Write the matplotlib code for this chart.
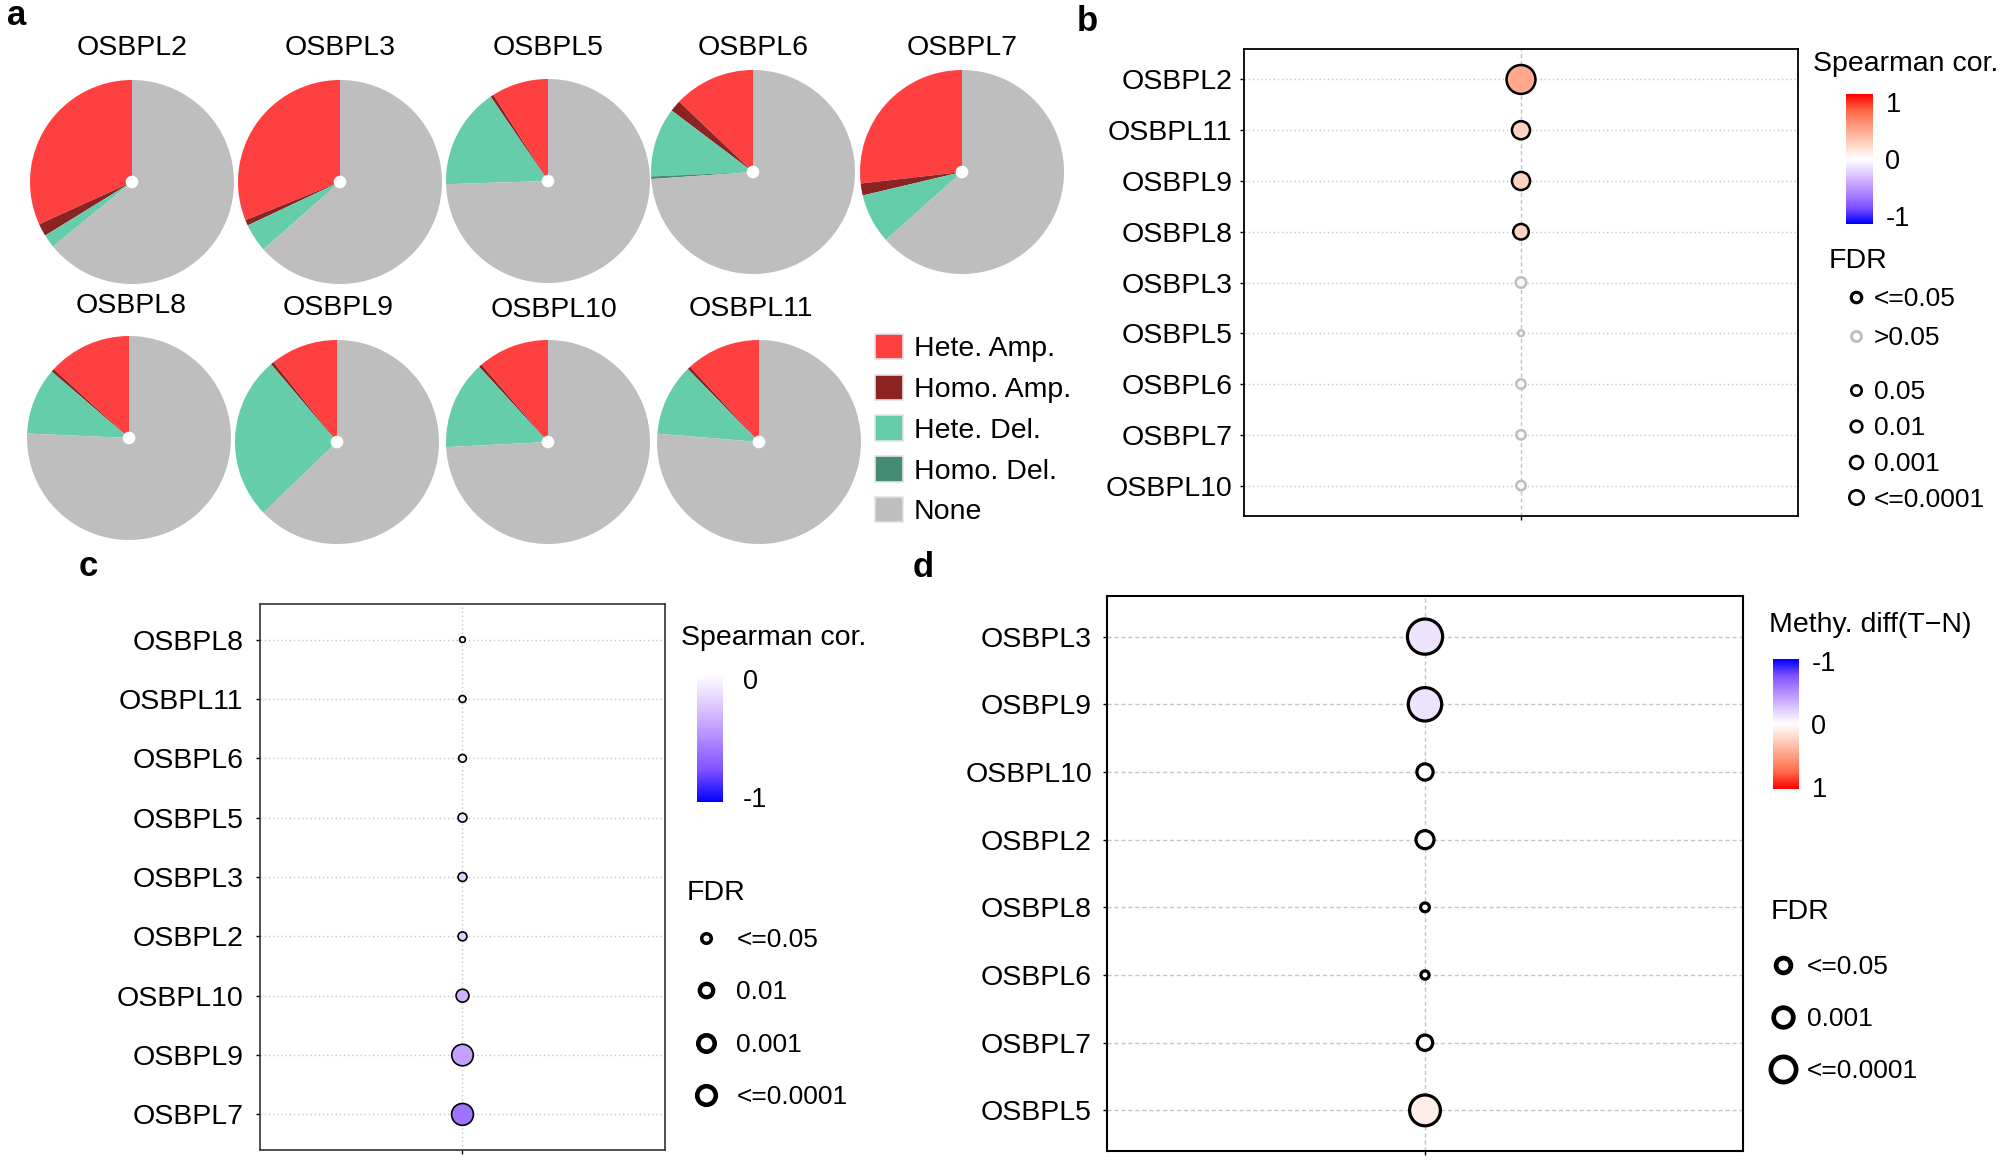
import matplotlib
matplotlib.use("Agg")
import matplotlib.pyplot as plt
import numpy as np
from matplotlib.colors import LinearSegmentedColormap, Normalize
from matplotlib.cm import ScalarMappable
from matplotlib.lines import Line2D
from matplotlib.patches import Patch, Circle

plt.rcParams["font.family"] = ["Liberation Sans", "DejaVu Sans"]
plt.rcParams["axes.unicode_minus"] = False

# ---- panel a: CNV share per gene (percent) ----
pie_genes = ["OSBPL2", "OSBPL3", "OSBPL5", "OSBPL6", "OSBPL7",
             "OSBPL8", "OSBPL9", "OSBPL10", "OSBPL11"]
cnv_types = ["Hete. Amp.", "Homo. Amp.", "Hete. Del.", "Homo. Del.", "None"]
hete_amp = [31.8, 31.1, 9.0, 12.9, 26.8, 13.2, 10.7, 11.3, 11.8]
homo_amp = [2.0, 0.9, 0.5, 1.8, 1.9, 0.5, 0.5, 0.5, 0.5]
hete_del = [2.1, 4.5, 16.0, 11.0, 7.9, 10.6, 26.0, 14.0, 11.4]
homo_del = [0.0, 0.0, 0.0, 0.4, 0.0, 0.0, 0.0, 0.0, 0.0]
no_cnv = [64.1, 63.5, 74.5, 73.9, 63.4, 75.7, 62.8, 74.2, 76.3]
cnv_colors = ["#FF4040", "#8B2323", "#66CDAA", "#458B74", "#BEBEBE"]

# ---- panel b: CNV vs expression ----
genes_b = ["OSBPL2", "OSBPL11", "OSBPL9", "OSBPL8", "OSBPL3",
           "OSBPL5", "OSBPL6", "OSBPL7", "OSBPL10"]
cor_b = [0.45, 0.24, 0.24, 0.22, 0.05, 0.02, 0.04, 0.05, 0.04]
fdr_b = [3.7e-6, 1.05e-3, 1.05e-3, 4e-3, 0.056, 0.63, 0.1, 0.1, 0.1]

# ---- panel c: methylation vs expression ----
genes_c = ["OSBPL8", "OSBPL11", "OSBPL6", "OSBPL5", "OSBPL3",
           "OSBPL2", "OSBPL10", "OSBPL9", "OSBPL7"]
cor_c = [-0.03, -0.06, -0.08, -0.12, -0.20, -0.22, -0.33, -0.40, -0.60]
fdr_c = [0.032, 0.0105, 0.005, 1.66e-3, 1.66e-3, 1.66e-3, 4.2e-5, 1.5e-8, 1.1e-8]

# ---- panel d: methylation difference tumour - normal ----
genes_d = ["OSBPL3", "OSBPL9", "OSBPL10", "OSBPL2",
           "OSBPL8", "OSBPL6", "OSBPL7", "OSBPL5"]
diff_d = [-0.12, -0.12, 0.0, 0.0, 0.0, 0.0, 0.03, 0.09]
fdr_d = [4.5e-9, 1.26e-8, 2.5e-4, 8.9e-5, 0.018, 0.025, 4e-4, 5.6e-8]

W, H = 2008, 1160
fig = plt.figure(figsize=(W / 100, H / 100), dpi=100)


def box(x0, y0, x1, y1):
    # pixel box (top-left origin) -> figure fraction rect
    return [x0 / W, 1 - y1 / H, (x1 - x0) / W, (y1 - y0) / H]


def pt(x, y):
    return (x / W, 1 - y / H)


# ggplot gradient2 (Lab interpolation) approximated by stops
bwr_stops = ["#0000FF", "#7E51FF", "#B28BFF", "#DCC5FF", "#FFFFFF",
             "#FFCFBE", "#FF9E81", "#FF6746", "#FF0000"]
cmap_bwr = LinearSegmentedColormap.from_list("gg_bwr", bwr_stops)
cmap_bw = LinearSegmentedColormap.from_list("gg_bw", bwr_stops[:5])

LBL = 20.5
LEG = 19
GRID = "#C6C6C6"

# ---------------- panel a ----------------
pie_centers = [(132, 182), (340, 182), (548, 181), (753, 172), (962, 172),
               (129, 438), (337, 442), (548, 442), (759, 442)]
title_pos = [(132, 48), (340, 48), (548, 48), (753, 48), (962, 48),
             (131, 306), (338, 308), (554, 310), (751, 309)]
R = 102
shares = np.array([hete_amp, homo_amp, hete_del, homo_del, no_cnv]).T
for gene, vals, (cx, cy), (tx, ty) in zip(pie_genes, shares, pie_centers, title_pos):
    ax = fig.add_axes(box(cx - R, cy - R, cx + R, cy + R))
    ax.pie(vals, colors=cnv_colors, startangle=90, counterclock=True,
           wedgeprops=dict(linewidth=0))
    ax.add_patch(Circle((0, 0), 0.055, color="white", zorder=5))
    ax.set_xlim(-1, 1)
    ax.set_ylim(-1, 1)
    fig.text(*pt(tx, ty), gene, ha="center", va="center", fontsize=LBL)

fig.legend(handles=[Patch(facecolor=c, edgecolor="#E3E3E3", linewidth=1.2)
                    for c in cnv_colors],
           labels=cnv_types, loc="upper left", bbox_to_anchor=pt(875, 334),
           frameon=False, fontsize=LBL, handlelength=1.0, handleheight=1.0,
           handletextpad=0.36, labelspacing=0.43, borderpad=0, borderaxespad=0)


# ---------------- dot panels ----------------
def dot_panel(rect, genes, values, fdr, cmap, norm, rfun, edges, lw,
              frame_lw, frame_col, pad, hstyle, vstyle):
    ax = fig.add_axes(box(*rect))
    y = np.arange(len(genes))
    radius = rfun(-np.log10(np.array(fdr)))
    ax.scatter(np.zeros(len(genes)), y, s=(1.44 * radius) ** 2, c=values,
               cmap=cmap, norm=norm, edgecolors=edges, linewidths=lw, zorder=3)
    ax.set_xlim(-1, 1)
    ax.set_ylim(len(genes) - 0.4, -0.6)
    ax.set_yticks(y)
    ax.set_yticklabels(genes, fontsize=LBL)
    ax.set_xticks([0])
    ax.set_xticklabels([])
    ax.tick_params(length=2.7, width=1, pad=pad, colors="black")
    ax.grid(axis="y", linestyle=hstyle, color=GRID, linewidth=1)
    ax.grid(axis="x", linestyle=vstyle, color=GRID, linewidth=1)
    ax.set_axisbelow(True)
    for s in ax.spines.values():
        s.set_linewidth(frame_lw)
        s.set_color(frame_col)
    return ax


def size_legend(labels, radii, lws, colors, x, y_top, textpad, spacing):
    handles = [Line2D([], [], linestyle="none", marker="o", markerfacecolor="white",
                      markeredgecolor=c, markeredgewidth=w, markersize=2 * 0.72 * r)
               for r, w, c in zip(radii, lws, colors)]
    fig.legend(handles=handles, labels=labels, loc="upper left",
               bbox_to_anchor=pt(x, y_top), frameon=False, fontsize=LEG,
               handlelength=1.0, handletextpad=textpad, labelspacing=spacing,
               borderpad=0, borderaxespad=0)


def colorbar(rect, cmap, lo, hi, ticks, pad, invert=False):
    cax = fig.add_axes(box(*rect))
    cb = fig.colorbar(ScalarMappable(norm=Normalize(lo, hi), cmap=cmap), cax=cax, ticks=ticks)
    cb.outline.set_visible(False)
    cax.tick_params(length=0, labelsize=LBL - 1, pad=pad)
    if invert:
        cax.invert_yaxis()
    return cb


DOTS = (0, (1, 2))
DASH = (0, (3, 2))

# panel b
edges_b = ["black" if f <= 0.05 else "#BEBEBE" for f in fdr_b]
dot_panel((1244, 49, 1798, 516), genes_b, cor_b, fdr_b, cmap_bwr, Normalize(-1, 1),
          lambda v: 2.5 + 2.2 * v, edges_b, 1.8, 1.3, "black", 5.8, DOTS, DASH)
fig.text(*pt(1813, 64), "Spearman cor.", fontsize=LBL, va="center")
colorbar((1846, 94, 1873, 224), cmap_bwr, -1.15, 1.15, [-1, 0, 1], 9)
fig.text(*pt(1829, 261), "FDR", fontsize=LBL, va="center")
size_legend(["<=0.05", ">0.05"], [5.2, 5.0], [2.3, 2.1], ["black", "#BEBEBE"],
            1843, 287, 0.16, 0.56)
size_legend(["0.05", "0.01", "0.001", "<=0.0001"], [5.2, 5.8, 6.4, 7.2],
            [1.9, 1.9, 1.9, 1.9], ["black"] * 4, 1843, 380, 0.16, 0.45)

# panel c
dot_panel((260, 604, 665, 1150), genes_c, cor_c, fdr_c, cmap_bw, Normalize(-1, 0),
          lambda v: 2.6 + 1.25 * (v - 1.3), "black", 1.2, 1.2, "#333333", 9.4, DOTS, DOTS)
fig.text(*pt(681, 638), "Spearman cor.", fontsize=LBL, va="center")
colorbar((697, 675, 723, 802), cmap_bw, -1.045, 0.035, [-1, 0], 14.4)
fig.text(*pt(687, 893), "FDR", fontsize=LBL, va="center")
size_legend(["<=0.05", "0.01", "0.001", "<=0.0001"], [4.8, 6.7, 8.2, 9.3],
            [2.5, 3.1, 3.3, 3.3], ["black"] * 4, 693, 928, 0.64, 1.075)

# panel d
dot_panel((1107, 596, 1743, 1151), genes_d, diff_d, fdr_d, cmap_bwr, Normalize(-1, 1),
          lambda v: 3.5 + 2.0 * (v - 1.3), "black", 2.3, 1.5, "black", 8.1, DASH, DASH)
fig.text(*pt(1769, 625), "Methy. diff(T\u2212N)", fontsize=LBL, va="center")
colorbar((1773, 659, 1799, 789), cmap_bwr, -1.03, 1.03, [-1, 0, 1], 9, invert=True)
fig.text(*pt(1771, 912), "FDR", fontsize=LBL, va="center")
size_legend(["<=0.05", "0.001", "<=0.0001"], [7.4, 9.8, 12.6],
            [3.4, 3.4, 3.4], ["black"] * 3, 1770, 955, 0.39, 1.07)

# panel letters
for letter, (lx, ly) in zip("abcd", [(7, 25), (1077, 31), (79, 576), (913, 577)]):
    fig.text(*pt(lx, ly), letter, fontsize=25, fontweight="bold", va="baseline")

fig.savefig("out.png", dpi=100)
